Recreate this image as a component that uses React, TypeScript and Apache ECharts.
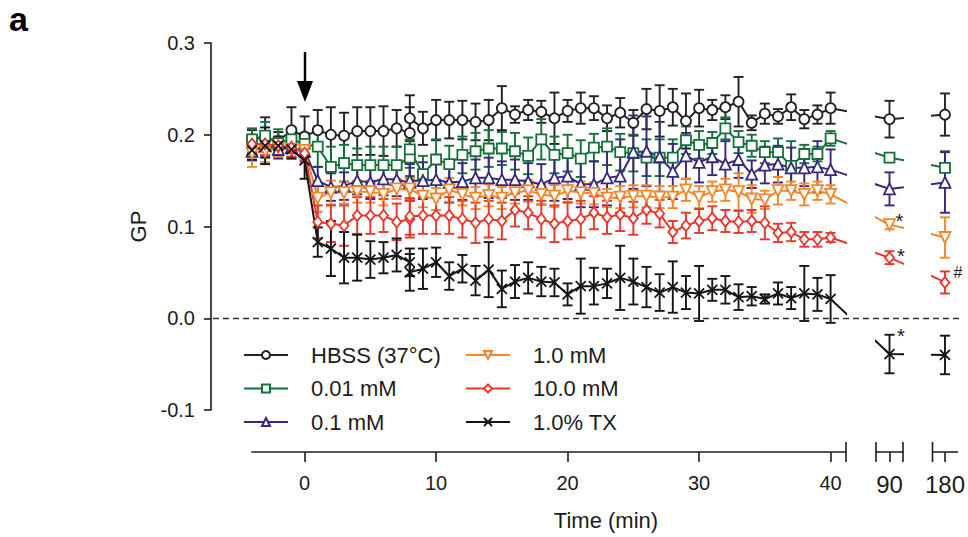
import React, { useEffect, useRef } from "react";
import * as echarts from "echarts";

// ---------- data ----------
const times = [
  -4, -3, -2, -1, 0, 1, 2, 3, 4, 5, 6, 7, 8, 8, 9, 10, 11, 12, 13, 14, 15, 16, 17,
  18, 19, 20, 21, 22, 23, 24, 25, 26, 27, 28, 29, 30, 31, 32, 33, 34, 35, 36, 37,
  38, 39, 40,
];
const lateTimes = [90, 180];
const mainTicks = [0, 10, 20, 30, 40];

const seriesNames = ["HBSS (37°C)", "0.01 mM", "0.1 mM", "1.0 mM", "10.0 mM", "1.0% TX"];

const hbss = [
  0.195, 0.197, 0.193, 0.205, 0.198, 0.205, 0.2, 0.199, 0.204, 0.204,
  0.204, 0.207, 0.202, 0.218, 0.207, 0.216, 0.216, 0.216, 0.214, 0.216,
  0.229, 0.222, 0.227, 0.225, 0.218, 0.226, 0.229, 0.229, 0.218, 0.224,
  0.213, 0.228, 0.226, 0.23, 0.215, 0.229, 0.227, 0.23, 0.236, 0.213,
  0.223, 0.22, 0.23, 0.217, 0.222, 0.229,
];
const hbssErr = [
  0.01, 0.022, 0.01, 0.025, 0.022, 0.022, 0.03, 0.025, 0.026, 0.026,
  0.027, 0.02, 0.028, 0.025, 0.018, 0.022, 0.02, 0.021, 0.02, 0.022,
  0.024, 0.009, 0.011, 0.012, 0.028, 0.012, 0.017, 0.013, 0.014, 0.016,
  0.014, 0.022, 0.028, 0.02, 0.03, 0.02, 0.011, 0.013, 0.027, 0.008,
  0.011, 0.008, 0.014, 0.01, 0.01, 0.017,
];
const hbssLate = [0.217, 0.222];
const hbssLateErr = [0.02, 0.023];

const mM001 = [
  0.195, 0.199, 0.191, 0.195, 0.19, 0.187, 0.165, 0.169, 0.167, 0.167,
  0.167, 0.167, 0.175, 0.184, 0.157, 0.173, 0.168, 0.178, 0.182, 0.185,
  0.185, 0.182, 0.177, 0.195, 0.178, 0.18, 0.174, 0.186, 0.187, 0.181,
  0.18, 0.175, 0.175, 0.175, 0.194, 0.189, 0.191, 0.207, 0.192, 0.188,
  0.181, 0.181, 0.166, 0.179, 0.179, 0.196,
];
const mM001Err = [
  0.012, 0.015, 0.015, 0.012, 0.012, 0.022, 0.022, 0.02, 0.018, 0.02,
  0.02, 0.02, 0.02, 0.02, 0.02, 0.022, 0.02, 0.02, 0.02, 0.02,
  0.018, 0.02, 0.02, 0.022, 0.02, 0.02, 0.02, 0.015, 0.02, 0.02,
  0.02, 0.02, 0.02, 0.02, 0.015, 0.015, 0.012, 0.012, 0.012, 0.012,
  0.012, 0.015, 0.027, 0.01, 0.008, 0.008,
];
const mM001Late = [0.175, 0.164];
const mM001LateErr = [0.004, 0.018];

const mM01 = [
  0.182, 0.188, 0.184, 0.186, 0.182, 0.15, 0.143, 0.144, 0.15, 0.148,
  0.152, 0.151, 0.148, 0.15, 0.15, 0.151, 0.148, 0.149, 0.153, 0.153,
  0.151, 0.151, 0.149, 0.146, 0.153, 0.155, 0.146, 0.146, 0.153, 0.155,
  0.181, 0.182, 0.176, 0.16, 0.177, 0.17, 0.176, 0.168, 0.173, 0.157,
  0.167, 0.168, 0.164, 0.164, 0.165, 0.162,
];
const mM01Err = [
  0.01, 0.012, 0.01, 0.01, 0.01, 0.015, 0.015, 0.015, 0.015, 0.018,
  0.018, 0.018, 0.02, 0.02, 0.02, 0.02, 0.022, 0.02, 0.02, 0.022,
  0.02, 0.022, 0.02, 0.022, 0.025, 0.025, 0.025, 0.025, 0.03, 0.04,
  0.04, 0.038, 0.038, 0.03, 0.025, 0.022, 0.02, 0.025, 0.02, 0.015,
  0.02, 0.02, 0.022, 0.02, 0.028, 0.022,
];
const mM01Late = [0.141, 0.148];
const mM01LateErr = [0.018, 0.033];

const mM1 = [
  0.18, 0.182, 0.186, 0.184, 0.183, 0.131, 0.137, 0.137, 0.138, 0.138,
  0.135, 0.141, 0.14, 0.141, 0.133, 0.13, 0.14, 0.135, 0.131, 0.134,
  0.131, 0.137, 0.139, 0.135, 0.133, 0.139, 0.137, 0.136, 0.131, 0.132,
  0.133, 0.133, 0.132, 0.132, 0.14, 0.132, 0.138, 0.14, 0.138, 0.13,
  0.129, 0.139, 0.139, 0.135, 0.139, 0.135,
];
const mM1Err = [
  0.015, 0.012, 0.01, 0.01, 0.01, 0.015, 0.013, 0.012, 0.012, 0.012,
  0.012, 0.011, 0.012, 0.012, 0.012, 0.012, 0.013, 0.012, 0.012, 0.012,
  0.012, 0.012, 0.012, 0.011, 0.012, 0.012, 0.012, 0.012, 0.01, 0.012,
  0.012, 0.012, 0.012, 0.012, 0.012, 0.012, 0.011, 0.012, 0.02, 0.015,
  0.01, 0.015, 0.01, 0.012, 0.01, 0.01,
];
const mM1Late = [0.102, 0.088];
const mM1LateErr = [0.005, 0.022];

const mM10 = [
  0.19, 0.19, 0.188, 0.186, 0.18, 0.105, 0.103, 0.101, 0.112, 0.112,
  0.112, 0.105, 0.108, 0.111, 0.112, 0.112, 0.112, 0.108, 0.104, 0.108,
  0.106, 0.118, 0.115, 0.108, 0.103, 0.106, 0.108, 0.115, 0.11, 0.113,
  0.109, 0.118, 0.114, 0.094, 0.101, 0.106, 0.109, 0.106, 0.105, 0.106,
  0.104, 0.093, 0.094, 0.086, 0.086, 0.088,
];
const mM10Err = [
  0.01, 0.012, 0.01, 0.01, 0.01, 0.018, 0.02, 0.022, 0.02, 0.02,
  0.018, 0.02, 0.02, 0.02, 0.02, 0.02, 0.02, 0.02, 0.022, 0.02,
  0.02, 0.018, 0.018, 0.02, 0.02, 0.02, 0.02, 0.018, 0.018, 0.018,
  0.018, 0.015, 0.015, 0.012, 0.014, 0.013, 0.013, 0.012, 0.012, 0.012,
  0.018, 0.01, 0.01, 0.008, 0.008, 0.005,
];
const mM10Late = [0.066, 0.039];
const mM10LateErr = [0.007, 0.012];

const tx = [
  0.183, 0.188, 0.188, 0.184, 0.172, 0.083, 0.076, 0.066, 0.066, 0.064,
  0.066, 0.069, 0.061, 0.05, 0.054, 0.061, 0.046, 0.054, 0.041, 0.053,
  0.032, 0.04, 0.044, 0.04, 0.039, 0.026, 0.035, 0.035, 0.038, 0.044,
  0.04, 0.034, 0.028, 0.034, 0.028, 0.027, 0.031, 0.031, 0.023, 0.024,
  0.021, 0.027, 0.022, 0.027, 0.026, 0.021,
];
const txErr = [
  0.01, 0.02, 0.01, 0.01, 0.02, 0.016, 0.03, 0.028, 0.025, 0.02,
  0.017, 0.018, 0.015, 0.02, 0.022, 0.016, 0.015, 0.015, 0.016, 0.03,
  0.02, 0.018, 0.017, 0.016, 0.015, 0.012, 0.03, 0.02, 0.016, 0.035,
  0.025, 0.022, 0.02, 0.028, 0.018, 0.03, 0.012, 0.015, 0.014, 0.01,
  0.005, 0.012, 0.012, 0.03, 0.018, 0.026,
];
const txLate = [-0.039, -0.04];
const txLateErr = [0.021, 0.021];

// ---------- styling / layout ----------
const FONT = '"Liberation Sans", Arial, Helvetica, sans-serif';
const INK = "#1c1c1c";
const CROSS = "path://M0,0L10,10M10,0L0,10";

const groups = [
  { color: "#222222", symbol: "circle", size: 10, rotate: 0, vals: hbss, errs: hbssErr, late: hbssLate, lateErr: hbssLateErr },
  { color: "#16703a", symbol: "rect", size: 10, rotate: 0, vals: mM001, errs: mM001Err, late: mM001Late, lateErr: mM001LateErr },
  { color: "#34287f", symbol: "triangle", size: 11, rotate: 0, vals: mM01, errs: mM01Err, late: mM01Late, lateErr: mM01LateErr },
  { color: "#f5862a", symbol: "triangle", size: 11, rotate: 180, vals: mM1, errs: mM1Err, late: mM1Late, lateErr: mM1LateErr },
  { color: "#e9352b", symbol: "diamond", size: [9, 11], rotate: 0, vals: mM10, errs: mM10Err, late: mM10Late, lateErr: mM10LateErr },
  { color: "#151515", symbol: CROSS, size: 10, rotate: 0, vals: tx, errs: txErr, late: txLate, lateErr: txLateErr },
];

// pixel layout of the broken x axis
const TOP = 43;
const BOTTOM = 410;
const A_L = 252;
const A_R = 846;
const B_L = 876;
const B_R = 903;
const C_L = 932.5;
const C_R = 960.5;
const A_MIN = -4;
const PX_PER_MIN = 13.15;
const A_MAX = A_MIN + (A_R - A_L) / PX_PER_MIN;
const B_MIN = 88, B_MAX = 92;
const C_MIN = 178, C_MAX = 182;
const pxA = (t: number) => A_L + (t - A_MIN) * PX_PER_MIN;
const px90 = (B_L + B_R) / 2;
const px180 = (C_L + C_R) / 2;
const unitB = (B_R - B_L) / (B_MAX - B_MIN);
const unitC = (C_R - C_L) / (C_MAX - C_MIN);
// display positions of neighbouring segments' points in each segment's own units
const ghost90InA = A_MIN + (px90 - A_L) / PX_PER_MIN;
const ghost40InB = 90 - (px90 - pxA(40)) / unitB;
const ghost180InB = 90 + (px180 - px90) / unitB;
const ghost90InC = 180 - (px180 - px90) / unitC;

function errRender(color: string) {
  return (params: any, api: any) => {
    const x = api.value(0);
    const y = api.value(1);
    const e = api.value(2);
    const top = api.coord([x, y + e]);
    const bot = api.coord([x, y - e]);
    const h = 5;
    const st = { stroke: color, lineWidth: 1.9 };
    return {
      type: "group",
      children: [
        { type: "line", shape: { x1: top[0], y1: top[1], x2: bot[0], y2: bot[1] }, style: st },
        { type: "line", shape: { x1: top[0] - h, y1: top[1], x2: top[0] + h, y2: top[1] }, style: st },
        { type: "line", shape: { x1: bot[0] - h, y1: bot[1], x2: bot[0] + h, y2: bot[1] }, style: st },
      ],
    };
  };
}

function buildSeries() {
  const out: any[] = [];
  groups.forEach((g, k) => {
    const common = {
      type: "line",
      symbol: g.symbol,
      symbolSize: g.size,
      symbolRotate: g.rotate,
      lineStyle: { color: g.color, width: 2 },
      itemStyle: { color: "#ffffff", borderColor: g.color, borderWidth: 1.8 },
      clip: true,
      z: 3,
      emphasis: { disabled: true },
    };
    const noSym = { symbol: "none" };
    out.push({
      ...common,
      name: seriesNames[k],
      xAxisIndex: 0,
      yAxisIndex: 0,
      data: [
        ...times.map((t, i) => [t, g.vals[i]]),
        { value: [ghost90InA, g.late[0]], ...noSym },
      ],
    });
    out.push({
      ...common,
      name: seriesNames[k] + " 90",
      xAxisIndex: 1,
      yAxisIndex: 1,
      data: [
        { value: [ghost40InB, g.vals[g.vals.length - 1]], ...noSym },
        [lateTimes[0], g.late[0]],
        { value: [ghost180InB, g.late[1]], ...noSym },
      ],
    });
    out.push({
      ...common,
      name: seriesNames[k] + " 180",
      xAxisIndex: 2,
      yAxisIndex: 2,
      data: [
        { value: [ghost90InC, g.late[0]], ...noSym },
        [lateTimes[1], g.late[1]],
      ],
    });
    const errCommon = { type: "custom", renderItem: errRender(g.color), encode: { x: 0, y: 1 }, z: 2, silent: true };
    out.push({ ...errCommon, name: seriesNames[k] + " e", xAxisIndex: 0, yAxisIndex: 0, data: times.map((t, i) => [t, g.vals[i], g.errs[i]]) });
    out.push({ ...errCommon, name: seriesNames[k] + " e90", xAxisIndex: 1, yAxisIndex: 1, data: [[lateTimes[0], g.late[0], g.lateErr[0]]] });
    out.push({ ...errCommon, name: seriesNames[k] + " e180", xAxisIndex: 2, yAxisIndex: 2, data: [[lateTimes[1], g.late[1], g.lateErr[1]]] });
  });
  return out;
}

function xAxisDef(grid: number, min: number, max: number, ticks: number[], fontSize: number, margin: number) {
  return {
    type: "value",
    gridIndex: grid,
    min,
    max,
    position: "bottom",
    offset: 42,
    axisLine: { show: true, onZero: false, lineStyle: { color: INK, width: 1.6 } },
    axisTick: { show: true, customValues: ticks, length: 10, inside: false, lineStyle: { color: INK, width: 1.6 } },
    axisLabel: { customValues: ticks, fontSize, color: INK, fontFamily: FONT, margin },
    splitLine: { show: false },
  };
}

function hiddenY(grid: number) {
  return { type: "value", gridIndex: grid, min: -0.1, max: 0.3, show: false };
}

const breakBar = (x: number) => ({
  type: "line",
  shape: { x1: x, y1: 442, x2: x, y2: 462 },
  style: { stroke: INK, lineWidth: 1.6 },
});

const mark = (text: string, x: number, y: number, size: number) => ({
  type: "text",
  x,
  y,
  style: { text, font: `${size}px ${FONT}`, fill: INK, align: "center", verticalAlign: "middle" },
});

export default function App() {
  const ref = useRef<HTMLDivElement>(null);
  useEffect(() => {
    if (!ref.current) return;
    const chart = echarts.init(ref.current, undefined, { renderer: "svg" });
    const legendCommon = {
      orient: "vertical",
      top: 343,
      padding: 0,
      itemWidth: 44,
      itemHeight: 10,
      itemGap: 9.5,
      selectedMode: false,
      textStyle: { fontSize: 22, color: INK, fontFamily: FONT, lineHeight: 24, padding: [0, 0, 0, 18] },
    };
    chart.setOption({
      animation: false,
      backgroundColor: "#ffffff",
      textStyle: { fontFamily: FONT },
      grid: [
        { left: A_L, top: TOP, width: A_R - A_L, height: BOTTOM - TOP },
        { left: B_L, top: TOP, width: B_R - B_L, height: BOTTOM - TOP },
        { left: C_L, top: TOP, width: C_R - C_L, height: BOTTOM - TOP },
      ],
      xAxis: [
        xAxisDef(0, A_MIN, A_MAX, mainTicks, 20, 21),
        xAxisDef(1, B_MIN, B_MAX, [lateTimes[0]], 24, 20),
        xAxisDef(2, C_MIN, C_MAX, [lateTimes[1]], 24, 20),
      ],
      yAxis: [
        {
          type: "value",
          gridIndex: 0,
          min: -0.1,
          max: 0.3,
          interval: 0.1,
          position: "left",
          offset: A_L - 211,
          axisLine: { show: true, onZero: false, lineStyle: { color: INK, width: 1.6 } },
          axisTick: { show: true, length: 7, lineStyle: { color: INK, width: 1.6 } },
          axisLabel: { formatter: (v: number) => v.toFixed(1), fontSize: 20, color: INK, fontFamily: FONT, margin: 16 },
          splitLine: { show: false },
          name: "GP",
          nameLocation: "middle",
          nameGap: 60,
          nameTextStyle: { fontSize: 22, color: INK, fontFamily: FONT },
        },
        hiddenY(1),
        hiddenY(2),
      ],
      legend: [
        { ...legendCommon, left: 243, data: seriesNames.slice(0, 3) },
        { ...legendCommon, left: 465, data: seriesNames.slice(3) },
      ],
      graphic: [
        { type: "text", x: 9, y: 2, style: { text: "a", font: `bold 34px ${FONT}`, fill: "#000" } },
        { type: "text", x: 606, y: 520, style: { text: "Time (min)", font: `22px ${FONT}`, fill: INK, align: "center", verticalAlign: "middle" } },
        { type: "line", z: 1, shape: { x1: 213, y1: 318.5, x2: 962, y2: 318.5 }, style: { stroke: "#333", lineWidth: 1.5, lineDash: [6, 4] } },
        { type: "line", shape: { x1: 305, y1: 52, x2: 305, y2: 84 }, style: { stroke: "#000", lineWidth: 2.5 } },
        { type: "polygon", shape: { points: [[297, 81], [313, 81], [305, 102]] }, style: { fill: "#000" } },
        breakBar(A_R),
        breakBar(B_L),
        breakBar(B_R),
        breakBar(C_L),
        mark("*", 899.5, 221, 20),
        mark("*", 901, 255.5, 20),
        mark("*", 901, 335.5, 20),
        mark("#", 958, 272, 16),
      ],
      series: buildSeries(),
    });
    return () => chart.dispose();
  }, []);
  return (
    <div
      ref={ref}
      style={{ position: "fixed", left: 0, top: 0, width: 968, height: 537, background: "#fff" }}
    />
  );
}
